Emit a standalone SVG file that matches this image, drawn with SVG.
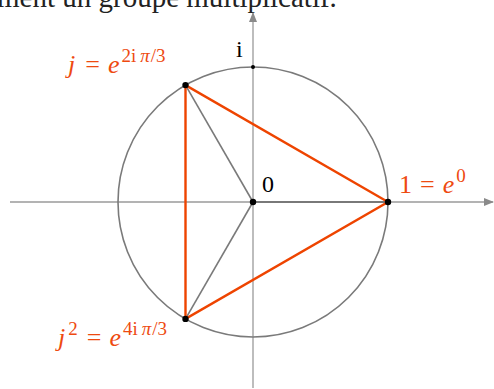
<svg xmlns="http://www.w3.org/2000/svg" width="494" height="389" viewBox="0 0 494 389">
<style>
.axis{stroke:#9a9a9a;stroke-width:1.3;fill:none}
.circ{stroke:#7a7a7a;stroke-width:1.6;fill:none}
.ray{stroke:#7a7a7a;stroke-width:1.6}
.tri{stroke:#ee4400;stroke-width:2.4;fill:none;stroke-linejoin:miter}
.lbl{font-family:"Liberation Serif","DejaVu Serif",serif;font-size:26px;fill:#ee4a10;font-style:italic}
.up{font-style:normal}
.sup{font-size:19px}
.blk{font-family:"Liberation Serif","DejaVu Serif",serif;font-size:24px;fill:#000}
.top{font-family:"Liberation Serif","DejaVu Serif",serif;font-size:29px;fill:#222}
</style>
<defs>
<marker id="arr" viewBox="0 0 10 10" refX="9" refY="5" markerWidth="10" markerHeight="10" markerUnits="userSpaceOnUse" orient="auto">
<path d="M0,1 L10,5 L0,9 Z" fill="#8a8a8a"/>
</marker>
</defs>
<text class="top" x="-3" y="7">ment un groupe multiplicatif.</text>
<g id="connectors">
<line class="axis" x1="10" y1="202" x2="493" y2="202" marker-end="url(#arr)"/>
<line class="axis" x1="253" y1="388" x2="253" y2="13" marker-end="url(#arr)"/>
<circle class="circ" cx="253" cy="202" r="135"/>
<line class="ray" x1="253" y1="202" x2="185.5" y2="85.1"/>
<line class="ray" x1="253" y1="202" x2="185.5" y2="318.9"/>
<line class="ray" x1="253" y1="202" x2="388" y2="202" style="stroke:#666"/>
<polygon class="tri" points="388,202 185.5,85.1 185.5,318.9"/>
</g>
<g id="origin"><circle cx="253" cy="202" r="3.2" fill="#000"/><text class="blk" x="262" y="192">0</text></g>
<g id="i"><circle cx="253" cy="67" r="2" fill="#000"/><text class="blk" x="236" y="57">i</text></g>
<g id="one"><circle cx="388" cy="202" r="3.2" fill="#000"/><text class="lbl" x="399" y="193"><tspan class="up">1</tspan><tspan class="up" dx="8">=</tspan><tspan dx="8">e</tspan><tspan class="up sup" dx="2" dy="-11">0</tspan></text></g>
<g id="j"><circle cx="185.5" cy="85.1" r="3.2" fill="#000"/><text class="lbl" x="68" y="73">j<tspan class="up" dx="10">=</tspan><tspan dx="8">e</tspan><tspan class="up sup" dx="2" dy="-11">2i</tspan><tspan class="sup" dx="4">π</tspan><tspan class="up sup" dx="1">/3</tspan></text></g>
<g id="j2"><circle cx="185.5" cy="318.9" r="3.2" fill="#000"/><text class="lbl" x="58" y="346">j<tspan class="up sup" dx="3" dy="-11">2</tspan><tspan class="up" dx="9" dy="11">=</tspan><tspan dx="8">e</tspan><tspan class="up sup" dx="2" dy="-11">4i</tspan><tspan class="sup" dx="4">π</tspan><tspan class="up sup" dx="1">/3</tspan></text></g>
</svg>
